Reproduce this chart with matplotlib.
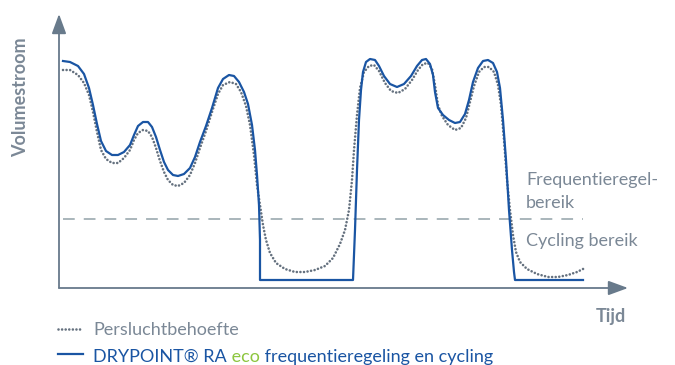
import matplotlib
matplotlib.use("Agg")
import matplotlib.pyplot as plt
from matplotlib.lines import Line2D

plt.rcParams['font.family'] = ['Lato', 'DejaVu Sans']

# --- data (time units, flow units) ---
demand_t = [4, 11, 19, 25, 30, 34, 38, 42, 47, 53, 59, 65, 71, 75, 79, 84, 89, 93, 97, 101,
            105, 109, 114, 119, 125, 131, 136, 141, 147, 153, 159, 164, 171, 177, 182, 187,
            191, 195, 198, 201, 204, 207, 211, 217, 226, 236, 246, 256, 266, 274, 281, 286,
            290, 293, 295, 298, 301, 305, 310, 315, 320, 326, 332, 339, 346, 353, 359, 364,
            369, 373, 376, 379, 383, 389, 396, 402, 407, 411, 415, 420, 425, 430, 435, 439,
            442, 445, 448, 451, 454, 457, 461, 468, 478, 489, 499, 509, 518, 526]
demand_v = [218, 218, 213, 205, 193, 176, 156, 138, 129, 125, 125, 130, 138, 148, 155, 158,
            157, 151, 140, 127, 116, 108, 103, 102, 105, 113, 125, 140, 157, 176, 194, 203,
            206, 204, 196, 182, 163, 133, 103, 83, 63, 48, 35, 25, 19, 16, 16, 18, 22, 30,
            44, 58, 78, 108, 138, 173, 200, 216, 222, 223, 217, 205, 197, 195, 199, 208,
            218, 224, 225, 219, 203, 183, 172, 163, 158, 160, 170, 186, 202, 216, 221, 221,
            216, 203, 183, 148, 108, 78, 53, 36, 26, 19, 14, 11, 11, 13, 16, 20]

drypoint_t = [4, 11, 19, 25, 30, 34, 38, 42, 47, 53, 59, 65, 71, 75, 79, 84, 89, 93, 97, 101,
              105, 109, 114, 119, 125, 131, 136, 141, 147, 153, 159, 164, 170, 175, 180, 185,
              189, 193, 196, 198, 200, 201, 201, 294, 296, 298, 300, 302, 304, 307, 311, 316,
              320, 325, 331, 338, 345, 352, 358, 363, 367, 371, 374, 376, 379, 384, 390, 396,
              401, 406, 410, 414, 419, 424, 429, 434, 438, 441, 444, 447, 450, 453, 455, 456, 524]
drypoint_v = [227, 226, 222, 214, 200, 183, 164, 147, 137, 133, 133, 136, 143, 153, 162, 166,
              166, 161, 151, 138, 126, 118, 113, 112, 114, 120, 131, 146, 162, 180, 200, 209,
              213, 212, 206, 196, 184, 163, 138, 113, 83, 48, 8, 8, 58, 118, 168, 198, 216,
              226, 229, 228, 222, 212, 204, 201, 204, 212, 222, 228, 229, 224, 213, 196, 180,
              173, 168, 165, 166, 174, 188, 206, 220, 227, 228, 225, 216, 200, 168, 128, 78,
              38, 16, 8, 8]

threshold_t = [4, 524]
threshold_v = [69, 69]

gray_text = '#7b8896'
axis_col = '#687a8b'
dot_col = '#65717f'
blue = '#1a55a3'
green = '#8dc63f'

fig = plt.figure(figsize=(6.75, 3.65), dpi=100)
ax = fig.add_axes([59 / 675, 77 / 365, 569 / 675, 274 / 365])
ax.set_xlim(0, 569)
ax.set_ylim(0, 274)
ax.axis('off')

# axes with arrow heads
arrow = dict(arrowstyle='-|>,head_length=0.6,head_width=0.22', color=axis_col,
             lw=1.3, shrinkA=0, shrinkB=0, mutation_scale=20)
ax.annotate('', xy=(0, 1), xytext=(0, 0), xycoords='axes fraction', arrowprops=arrow)
ax.annotate('', xy=(1, 0), xytext=(0, 0), xycoords='axes fraction', arrowprops=arrow)

ax.plot(threshold_t, threshold_v, color='#a3b0b5', lw=1.3, dashes=(6.5, 5))
ax.plot(demand_t, demand_v, color=dot_col, lw=1.9, linestyle=(0, (0.01, 1.35)),
        dash_capstyle='round', solid_joinstyle='round')
ax.plot(drypoint_t, drypoint_v, color=blue, lw=1.6, solid_joinstyle='round')

# labels
fig.text(21 / 675, 1 - 97 / 365, 'Volumestroom', rotation=90, ha='center', va='center',
         fontsize=13, fontweight='bold', color=gray_text)
fig.text(596 / 675, 1 - 322 / 365, 'Tijd', ha='left', va='baseline',
         fontsize=13, fontweight='bold', color=gray_text)
fig.text(526 / 675, 1 - 185 / 365, 'Frequentieregel-', ha='left', va='baseline',
         fontsize=13, color=gray_text)
fig.text(526 / 675, 1 - 208 / 365, 'bereik', ha='left', va='baseline',
         fontsize=13, color=gray_text)
fig.text(526 / 675, 1 - 246 / 365, 'Cycling bereik', ha='left', va='baseline',
         fontsize=13, color=gray_text)

# legend drawn by hand
fig.add_artist(Line2D([58 / 675, 83 / 675], [1 - 329 / 365] * 2, color=dot_col, lw=1.9,
                      linestyle=(0, (0.01, 1.35)), dash_capstyle='round'))
fig.add_artist(Line2D([58 / 675, 83 / 675], [1 - 354 / 365] * 2, color=blue, lw=1.6))
fig.text(93 / 675, 1 - 335 / 365, 'Persluchtbehoefte', ha='left', va='baseline',
         fontsize=13, color=gray_text)
t1 = fig.text(93 / 675, 1 - 362 / 365, 'DRYPOINT® RA', ha='left', va='baseline',
              fontsize=13, color=blue)
t2 = ax.annotate(' eco', xy=(1, 0), xycoords=t1, ha='left', va='bottom',
                 fontsize=13, color=green, annotation_clip=False)
t3 = ax.annotate(' frequentieregeling en cycling', xy=(1, 0), xycoords=t2, ha='left',
                 va='bottom', fontsize=13, color=blue, annotation_clip=False)

fig.savefig('out.png', dpi=100)
